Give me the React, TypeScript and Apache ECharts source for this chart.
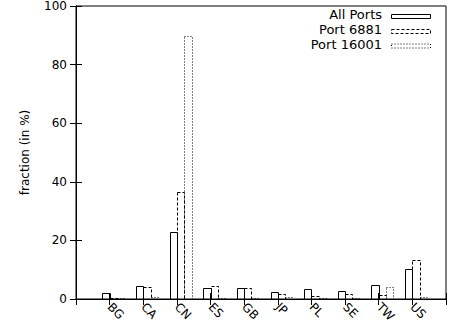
import React, { useEffect, useRef } from "react";
import * as echarts from "echarts";

const categories = ["BG", "CA", "CN", "ES", "GB", "JP", "PL", "SE", "TW", "US"];
const allPorts = [2.2, 4.4, 22.8, 3.8, 3.6, 2.4, 3.3, 2.6, 4.7, 10.3];
const port6881 = [0.5, 4.1, 36.4, 4.3, 3.6, 1.6, 1.0, 1.7, 1.3, 13.2];
const port16001 = [0.3, 0.6, 89.8, 0.3, 0.4, 0.6, 0.2, 0.2, 4.2, 0.8];
const seriesNames = ["All Ports", "Port 6881", "Port 16001"];
const yTicks = [0, 20, 40, 60, 80, 100];

const FONT = "DejaVu Sans";
const dashes: (number[] | null)[] = [null, [3, 2], [1, 2]];
const BAR_FRAC = 0.217;

function makeSeries(name: string, values: number[], k: number) {
  return {
    type: "custom",
    name,
    data: values.map((v, i) => [i + 1, v]),
    renderItem: (_params: any, api: any) => {
      const x = api.value(0);
      const v = api.value(1);
      const base = api.coord([x, 0]);
      const top = api.coord([x, v]);
      const w = api.size([1, 0])[0] * BAR_FRAC;
      const x0 = Math.round(base[0] - w + k * w) + 0.5;
      const x1 = Math.round(base[0] + k * w) + 0.5;
      const y0 = Math.round(top[1]) + 0.5;
      const y1 = Math.round(base[1]) + 0.5;
      return {
        type: "rect",
        shape: { x: x0, y: y0, width: x1 - x0, height: y1 - y0 },
        style: {
          fill: "none",
          stroke: "#000",
          lineWidth: 1,
          lineDash: dashes[k] || undefined,
        },
      };
    },
  };
}

export default function App() {
  const ref = useRef<HTMLDivElement>(null);
  useEffect(() => {
    if (!ref.current) return;
    const chart = echarts.init(ref.current, null, { renderer: "svg" });
    const legendRows = [16, 31, 45.5];
    const legendGraphics: any[] = [];
    seriesNames.forEach((n, k) => {
      legendGraphics.push({
        type: "text",
        right: 453 - 382,
        top: legendRows[k] - 8,
        style: { text: n, font: `13px '${FONT}'`, fill: "#000", textAlign: "right" },
      });
      legendGraphics.push({
        type: "rect",
        shape: { x: 391.5, y: legendRows[k] - 2 + 0.5, width: 39, height: 4 },
        style: { fill: "none", stroke: "#000", lineWidth: 1, lineDash: dashes[k] || undefined },
      });
    });
    chart.setOption({
      animation: false,
      grid: {
        left: 76,
        right: 7,
        top: 6,
        bottom: 30,
        show: true,
        borderColor: "#000",
        borderWidth: 1,
        backgroundColor: "transparent",
      },
      xAxis: [
        {
          type: "value",
          min: 0,
          max: 11,
          interval: 1,
          splitLine: { show: false },
          axisLine: { show: true, lineStyle: { color: "#000" } },
          axisTick: { show: true, inside: true, length: 6, lineStyle: { color: "#000" } },
          axisLabel: {
            rotate: 315,
            margin: 6,
            color: "#000",
            fontFamily: FONT,
            fontSize: 12,
            formatter: (v: number) => categories[v - 1] || "",
          },
        },
        {
          type: "value",
          position: "top",
          min: 0,
          max: 11,
          interval: 1,
          splitLine: { show: false },
          axisLine: { show: true, lineStyle: { color: "#000" } },
          axisTick: { show: true, inside: true, length: 6, lineStyle: { color: "#000" } },
          axisLabel: { show: false },
        },
      ],
      yAxis: [
        {
          type: "value",
          min: yTicks[0],
          max: yTicks[yTicks.length - 1],
          interval: 20,
          name: "fraction (in %)",
          nameLocation: "middle",
          nameGap: 45,
          nameTextStyle: { color: "#000", fontFamily: FONT, fontSize: 12 },
          splitLine: { show: false },
          axisLine: { show: true, lineStyle: { color: "#000" } },
          axisTick: { show: true, inside: true, length: 6, lineStyle: { color: "#000" } },
          axisLabel: { color: "#000", fontFamily: FONT, fontSize: 12, margin: 9 },
        },
        {
          type: "value",
          position: "right",
          min: 0,
          max: 100,
          interval: 20,
          splitLine: { show: false },
          axisLine: { show: true, lineStyle: { color: "#000" } },
          axisTick: { show: true, inside: true, length: 6, lineStyle: { color: "#000" } },
          axisLabel: { show: false },
        },
      ],
      series: [
        makeSeries(seriesNames[0], allPorts, 0),
        makeSeries(seriesNames[1], port6881, 1),
        makeSeries(seriesNames[2], port16001, 2),
      ],
      graphic: legendGraphics,
    });
    return () => chart.dispose();
  }, []);
  return <div ref={ref} style={{ width: 453, height: 329, position: "absolute", left: 0, top: 0 }} />;
}
